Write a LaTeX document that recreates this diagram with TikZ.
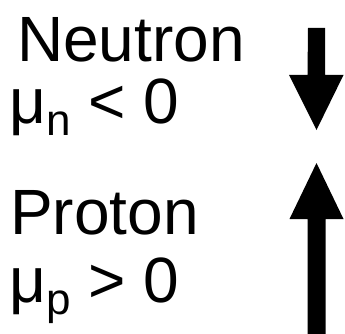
\documentclass[tikz,border=0pt]{standalone}
\usepackage{fontspec}
\setmainfont{Liberation Sans}
\usepackage{tikz}
\tikzstyle{word}=[anchor=base west, inner sep=0pt, font=\fontsize{64}{70}\selectfont]
\tikzstyle{spin}=[fill=black]
\newcommand{\subs}[1]{\raisebox{-12pt}{\fontsize{44}{48}\selectfont #1}}

\begin{document}
\begin{tikzpicture}[x=1pt, y=-1pt]
    \useasboundingbox (0,0) rectangle (345,334);

    %neutron
    \node (neutron) at (17,62) [word] {Neutron};
    \node (mun) at (9,124) [word] {μ\subs{n} < 0};

    %proton
    \node (proton) at (10,234) [word] {Proton};
    \node (mup) at (9,302) [word] {μ\subs{p} > 0};

    %neutron spin
    \coordinate (ntail) at (316.5,28);
    \coordinate (ntip) at (316.5,130);
    \fill[spin] (ntail) ++(-8.5,0) -- ++(17,0) -- ++(0,47) -- ++(18.5,0) -- (ntip) -- ++(-27.5,-55) -- ++(18.5,0) -- cycle;

    %proton spin
    \coordinate (ptail) at (316.5,334);
    \coordinate (ptip) at (316.5,163);
    \fill[spin] (ptail) ++(-9,0) -- ++(18,0) -- ++(0,-115) -- ++(18,0) -- (ptip) -- ++(-27,56) -- ++(18,0) -- cycle;

\end{tikzpicture}
\end{document}
